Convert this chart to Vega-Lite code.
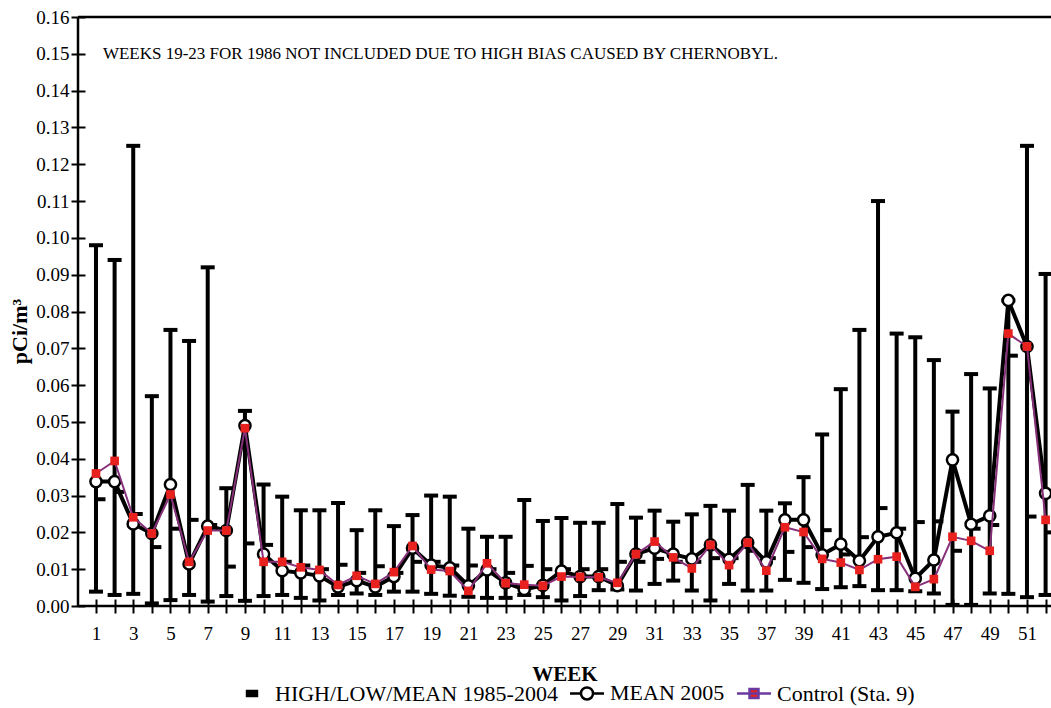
{
  "$schema": "https://vega.github.io/schema/vega-lite/v6.json",
  "width": 973,
  "height": 589,
  "autosize": "none",
  "padding": {"left": 78, "top": 17, "right": 0, "bottom": 102},
  "background": "white",
  "config": {
    "view": {"stroke": null},
    "font": "Liberation Serif",
    "text": {"font": "Liberation Serif"},
    "axis": {
      "offset": -7, "tickSize": 14, "tickWidth": 2, "tickColor": "black",
      "domain": false, "grid": false,
      "labelOverlap": false, "labelFlush": false,
      "labelFont": "Liberation Serif", "labelFontSize": 19, "labelColor": "black",
      "titleFont": "Liberation Serif", "titleFontWeight": "bold", "titleColor": "black"
    },
    "axisX": {"tickCount": 52, "labelPadding": 11, "titleFontSize": 21, "titlePadding": 20},
    "axisY": {"tickCount": 16, "labelPadding": 2, "titleFontSize": 22, "titlePadding": 4, "titleY": 314}
  },
  "data": {
    "values": [
      {"week": 1, "high": 0.098, "low": 0.0039, "hmean": 0.029, "m05": 0.0338, "ctl": 0.036},
      {"week": 2, "high": 0.094, "low": 0.003, "hmean": 0.031, "m05": 0.0338, "ctl": 0.0394},
      {"week": 3, "high": 0.125, "low": 0.0033, "hmean": 0.025, "m05": 0.0223, "ctl": 0.0241},
      {"week": 4, "high": 0.057, "low": 0.0007, "hmean": 0.016, "m05": 0.0197, "ctl": 0.0197},
      {"week": 5, "high": 0.075, "low": 0.0016, "hmean": 0.021, "m05": 0.033, "ctl": 0.0303},
      {"week": 6, "high": 0.072, "low": 0.003, "hmean": 0.0234, "m05": 0.0114, "ctl": 0.012},
      {"week": 7, "high": 0.092, "low": 0.0012, "hmean": 0.022, "m05": 0.0217, "ctl": 0.0205},
      {"week": 8, "high": 0.032, "low": 0.0027, "hmean": 0.0107, "m05": 0.0205, "ctl": 0.0205},
      {"week": 9, "high": 0.053, "low": 0.0014, "hmean": 0.017, "m05": 0.049, "ctl": 0.0483},
      {"week": 10, "high": 0.033, "low": 0.0027, "hmean": 0.0166, "m05": 0.0141, "ctl": 0.012},
      {"week": 11, "high": 0.0297, "low": 0.003, "hmean": 0.012, "m05": 0.0096, "ctl": 0.012},
      {"week": 12, "high": 0.026, "low": 0.0022, "hmean": 0.011, "m05": 0.009, "ctl": 0.0105},
      {"week": 13, "high": 0.026, "low": 0.0015, "hmean": 0.01, "m05": 0.0082, "ctl": 0.0098},
      {"week": 14, "high": 0.028, "low": 0.003, "hmean": 0.0112, "m05": 0.0052, "ctl": 0.0057},
      {"week": 15, "high": 0.0206, "low": 0.0034, "hmean": 0.009, "m05": 0.0069, "ctl": 0.0082},
      {"week": 16, "high": 0.026, "low": 0.003, "hmean": 0.0108, "m05": 0.0052, "ctl": 0.006},
      {"week": 17, "high": 0.0217, "low": 0.0039, "hmean": 0.009, "m05": 0.008, "ctl": 0.0092},
      {"week": 18, "high": 0.0247, "low": 0.0039, "hmean": 0.012, "m05": 0.0157, "ctl": 0.0163},
      {"week": 19, "high": 0.03, "low": 0.0033, "hmean": 0.012, "m05": 0.0111, "ctl": 0.0099},
      {"week": 20, "high": 0.0297, "low": 0.0028, "hmean": 0.011, "m05": 0.0104, "ctl": 0.0095},
      {"week": 21, "high": 0.021, "low": 0.0025, "hmean": 0.011, "m05": 0.0055, "ctl": 0.0041},
      {"week": 22, "high": 0.0188, "low": 0.0022, "hmean": 0.01, "m05": 0.0098, "ctl": 0.0116},
      {"week": 23, "high": 0.0188, "low": 0.0022, "hmean": 0.009, "m05": 0.0063, "ctl": 0.0062},
      {"week": 24, "high": 0.0288, "low": 0.003, "hmean": 0.0109, "m05": 0.0045, "ctl": 0.0058},
      {"week": 25, "high": 0.0231, "low": 0.0024, "hmean": 0.01, "m05": 0.0056, "ctl": 0.0055},
      {"week": 26, "high": 0.0239, "low": 0.0015, "hmean": 0.01, "m05": 0.0095, "ctl": 0.008},
      {"week": 27, "high": 0.0226, "low": 0.0027, "hmean": 0.01, "m05": 0.008, "ctl": 0.0079},
      {"week": 28, "high": 0.0226, "low": 0.0043, "hmean": 0.01, "m05": 0.008, "ctl": 0.0078},
      {"week": 29, "high": 0.0277, "low": 0.0045, "hmean": 0.012, "m05": 0.0055, "ctl": 0.0063},
      {"week": 30, "high": 0.024, "low": 0.0042, "hmean": 0.012, "m05": 0.0141, "ctl": 0.0141},
      {"week": 31, "high": 0.0259, "low": 0.006, "hmean": 0.0128, "m05": 0.0157, "ctl": 0.0175},
      {"week": 32, "high": 0.0229, "low": 0.0069, "hmean": 0.012, "m05": 0.0141, "ctl": 0.0132},
      {"week": 33, "high": 0.0249, "low": 0.0042, "hmean": 0.012, "m05": 0.0128, "ctl": 0.0102},
      {"week": 34, "high": 0.0272, "low": 0.0015, "hmean": 0.013, "m05": 0.0166, "ctl": 0.0166},
      {"week": 35, "high": 0.0259, "low": 0.006, "hmean": 0.013, "m05": 0.0127, "ctl": 0.0111},
      {"week": 36, "high": 0.0329, "low": 0.0042, "hmean": 0.015, "m05": 0.0172, "ctl": 0.0172},
      {"week": 37, "high": 0.0259, "low": 0.0042, "hmean": 0.013, "m05": 0.012, "ctl": 0.0096},
      {"week": 38, "high": 0.0279, "low": 0.0071, "hmean": 0.0147, "m05": 0.0234, "ctl": 0.0214},
      {"week": 39, "high": 0.035, "low": 0.0063, "hmean": 0.016, "m05": 0.0234, "ctl": 0.0201},
      {"week": 40, "high": 0.0466, "low": 0.0046, "hmean": 0.0206, "m05": 0.0139, "ctl": 0.0128},
      {"week": 41, "high": 0.0589, "low": 0.0051, "hmean": 0.014, "m05": 0.0168, "ctl": 0.0118},
      {"week": 42, "high": 0.075, "low": 0.0054, "hmean": 0.0187, "m05": 0.0123, "ctl": 0.0098},
      {"week": 43, "high": 0.11, "low": 0.0043, "hmean": 0.0266, "m05": 0.0188, "ctl": 0.0127},
      {"week": 44, "high": 0.074, "low": 0.0043, "hmean": 0.021, "m05": 0.0199, "ctl": 0.0134},
      {"week": 45, "high": 0.073, "low": 0.004, "hmean": 0.0228, "m05": 0.0075, "ctl": 0.0052},
      {"week": 46, "high": 0.0668, "low": 0.0034, "hmean": 0.023, "m05": 0.0125, "ctl": 0.0073},
      {"week": 47, "high": 0.0528, "low": 0.0003, "hmean": 0.015, "m05": 0.0397, "ctl": 0.0188},
      {"week": 48, "high": 0.063, "low": 0.0003, "hmean": 0.021, "m05": 0.0222, "ctl": 0.0177},
      {"week": 49, "high": 0.0591, "low": 0.0034, "hmean": 0.022, "m05": 0.0245, "ctl": 0.015},
      {"week": 50, "high": 0.083, "low": 0.0033, "hmean": 0.068, "m05": 0.083, "ctl": 0.074},
      {"week": 51, "high": 0.125, "low": 0.0024, "hmean": 0.0243, "m05": 0.0705, "ctl": 0.0705},
      {"week": 52, "high": 0.0902, "low": 0.003, "hmean": 0.02, "m05": 0.0306, "ctl": 0.0234}
    ]
  },
  "layer": [
    {
      "mark": {"type": "rule", "strokeWidth": 4, "color": "black"},
      "encoding": {
        "x": {"field": "week", "type": "quantitative",
              "scale": {"domain": [0.034, 52.29], "nice": false, "zero": false},
              "axis": {"title": "WEEK", "labelExpr": "datum.value % 2 == 1 ? datum.label : ''"}},
        "y": {"field": "low", "type": "quantitative",
              "scale": {"domain": [0, 0.16], "nice": false, "zero": false},
              "axis": {"title": "pCi/m³", "format": ".2f"}},
        "y2": {"field": "high"}
      }
    },
    {
      "mark": {"type": "tick", "orient": "horizontal", "size": 14, "thickness": 4, "color": "black", "opacity": 1},
      "encoding": {
        "x": {"field": "week", "type": "quantitative", "axis": {"title": "WEEK", "labelExpr": "datum.value % 2 == 1 ? datum.label : ''"}},
        "y": {"field": "high", "type": "quantitative", "axis": {"title": "pCi/m³", "format": ".2f"}}
      }
    },
    {
      "mark": {"type": "tick", "orient": "horizontal", "size": 14, "thickness": 4, "color": "black", "opacity": 1},
      "encoding": {
        "x": {"field": "week", "type": "quantitative", "axis": {"title": "WEEK", "labelExpr": "datum.value % 2 == 1 ? datum.label : ''"}},
        "y": {"field": "low", "type": "quantitative", "axis": {"title": "pCi/m³", "format": ".2f"}}
      }
    },
    {
      "mark": {"type": "tick", "orient": "horizontal", "size": 9, "thickness": 4, "color": "black", "opacity": 1, "xOffset": 5},
      "encoding": {
        "x": {"field": "week", "type": "quantitative", "axis": {"title": "WEEK", "labelExpr": "datum.value % 2 == 1 ? datum.label : ''"}},
        "y": {"field": "hmean", "type": "quantitative", "axis": {"title": "pCi/m³", "format": ".2f"}}
      }
    },
    {
      "mark": {"type": "line", "strokeWidth": 4, "color": "black"},
      "encoding": {
        "x": {"field": "week", "type": "quantitative", "axis": {"title": "WEEK", "labelExpr": "datum.value % 2 == 1 ? datum.label : ''"}},
        "y": {"field": "m05", "type": "quantitative", "axis": {"title": "pCi/m³", "format": ".2f"}}
      }
    },
    {
      "mark": {"type": "point", "shape": "circle", "filled": true, "fill": "white", "stroke": "black", "strokeWidth": 2.5, "size": 125, "opacity": 1},
      "encoding": {
        "x": {"field": "week", "type": "quantitative", "axis": {"title": "WEEK", "labelExpr": "datum.value % 2 == 1 ? datum.label : ''"}},
        "y": {"field": "m05", "type": "quantitative", "axis": {"title": "pCi/m³", "format": ".2f"}}
      }
    },
    {
      "mark": {"type": "line", "strokeWidth": 2, "color": "#86307a"},
      "encoding": {
        "x": {"field": "week", "type": "quantitative", "axis": {"title": "WEEK", "labelExpr": "datum.value % 2 == 1 ? datum.label : ''"}},
        "y": {"field": "ctl", "type": "quantitative", "axis": {"title": "pCi/m³", "format": ".2f"}}
      }
    },
    {
      "mark": {"type": "point", "shape": "square", "filled": true, "color": "#e8201e", "size": 75, "opacity": 1},
      "encoding": {
        "x": {"field": "week", "type": "quantitative", "axis": {"title": "WEEK", "labelExpr": "datum.value % 2 == 1 ? datum.label : ''"}},
        "y": {"field": "ctl", "type": "quantitative", "axis": {"title": "pCi/m³", "format": ".2f"}}
      }
    },
    {
      "data": {"values": [{}]},
      "mark": {"type": "rule", "strokeWidth": 2.5, "color": "black"},
      "encoding": {"y": {"datum": 0.16, "type": "quantitative", "axis": {"title": "pCi/m³", "format": ".2f"}}}
    },
    {
      "data": {"values": [{}]},
      "mark": {"type": "rule", "strokeWidth": 2.5, "color": "black"},
      "encoding": {"y": {"datum": 0, "type": "quantitative", "axis": {"title": "pCi/m³", "format": ".2f"}}}
    },
    {
      "data": {"values": [{}]},
      "mark": {"type": "rule", "strokeWidth": 2.5, "color": "black"},
      "encoding": {"x": {"datum": 0.034, "type": "quantitative", "axis": {"title": "WEEK", "labelExpr": "datum.value % 2 == 1 ? datum.label : ''"}}}
    },
    {
      "data": {"values": [{}]},
      "mark": {"type": "text", "align": "left", "baseline": "middle", "fontSize": 17, "font": "Liberation Serif", "color": "black"},
      "encoding": {
        "x": {"datum": 1.37, "type": "quantitative", "axis": {"title": "WEEK", "labelExpr": "datum.value % 2 == 1 ? datum.label : ''"}},
        "y": {"datum": 0.15, "type": "quantitative", "axis": {"title": "pCi/m³", "format": ".2f"}},
        "text": {"value": "WEEKS 19-23 FOR 1986 NOT INCLUDED DUE TO HIGH BIAS CAUSED BY CHERNOBYL."}
      }
    },
    {
      "data": {"values": []},
      "mark": {"type": "point", "strokeWidth": 2.5, "opacity": 1},
      "encoding": {
        "shape": {
          "field": "k", "type": "nominal",
          "scale": {"domain": ["HIGH/LOW/MEAN 1985-2004", "MEAN 2005", "Control (Sta. 9)"],
                    "range": ["M-0.71,-0.36H0.71V0.36H-0.71Z", "M-2.43,0H-0.86M0.86,0H2.43M-0.86,0A0.86,0.86 0 1,0 0.86,0A0.86,0.86 0 1,0 -0.86,0Z", "M-2.43,0H2.43M-0.64,-0.64H0.64V0.64H-0.64Z"]},
          "legend": {"title": null, "orient": "none", "legendX": 163, "legendY": 665, "direction": "horizontal", "labelFont": "Liberation Serif", "labelFontSize": 22, "labelColor": "black", "labelLimit": 500, "symbolSize": 196, "symbolStrokeWidth": 2.5, "labelOffset": 12, "columnPadding": 6, "symbolOpacity": 1, "padding": 0}
        },
        "fill": {
          "field": "k", "type": "nominal",
          "scale": {"domain": ["HIGH/LOW/MEAN 1985-2004", "MEAN 2005", "Control (Sta. 9)"], "range": ["black", "white", "#e8201e"]},
          "legend": {"title": null, "orient": "none", "legendX": 163, "legendY": 665, "direction": "horizontal", "labelFont": "Liberation Serif", "labelFontSize": 22, "labelColor": "black", "labelLimit": 500, "symbolSize": 196, "symbolStrokeWidth": 2.5, "labelOffset": 12, "columnPadding": 6, "symbolOpacity": 1, "padding": 0}
        },
        "stroke": {
          "field": "k", "type": "nominal",
          "scale": {"domain": ["HIGH/LOW/MEAN 1985-2004", "MEAN 2005", "Control (Sta. 9)"], "range": ["black", "black", "#6a3aa0"]},
          "legend": {"title": null, "orient": "none", "legendX": 163, "legendY": 665, "direction": "horizontal", "labelFont": "Liberation Serif", "labelFontSize": 22, "labelColor": "black", "labelLimit": 500, "symbolSize": 196, "symbolStrokeWidth": 2.5, "labelOffset": 12, "columnPadding": 6, "symbolOpacity": 1, "padding": 0}
        }
      }
    }
  ]
}
